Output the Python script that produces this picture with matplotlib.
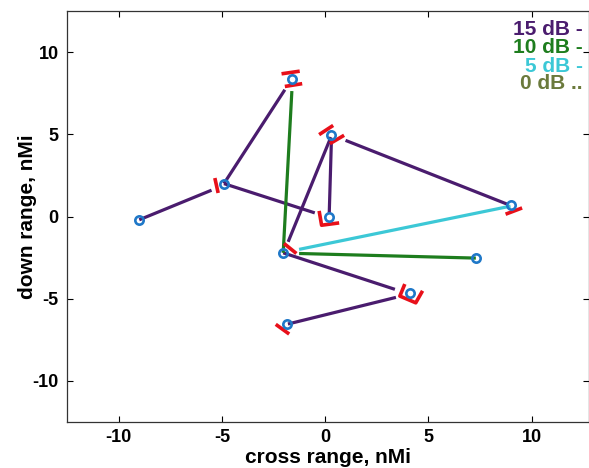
import matplotlib
matplotlib.use("Agg")
import matplotlib.pyplot as plt

# ---- data ----
# target positions (cross range, down range) in nMi
pt_x = [-9.0, -4.9, -1.6, 0.28, 0.2, 8.98, -2.03, 7.3, 4.1, -1.84]
pt_y = [-0.2, 2.0, 8.35, 4.98, 0.0, 0.69, -2.21, -2.53, -4.64, -6.54]

# 15 dB links (start x, start y, end x, end y)
links15_x0 = [-9.0, -4.9, -4.9, 0.30, 0.28, 0.99, -2.03, 3.43]
links15_y0 = [-0.2, 2.0, 2.0, 4.43, 4.83, 4.63, -2.21, -4.92]
links15_x1 = [-5.5, -1.95, -0.5, 0.20, -1.79, 8.82, 3.38, -1.80]
links15_y1 = [1.6, 7.71, 0.22, 0.18, -1.54, 0.75, -4.43, -6.54]

# 10 dB links
links10_x0 = [-1.61, -1.26]
links10_y0 = [7.63, -2.25]
links10_x1 = [-2.03, 7.3]
links10_y1 = [-2.21, -2.53]

# 5 dB links
links5_x0 = [-1.26]
links5_y0 = [-2.0]
links5_x1 = [8.98]
links5_y1 = [0.63]

# red bracket polylines (x list, y list)
brackets = [
    ([-2.11, -1.23], [8.68, 8.84]),
    ([-1.95, -1.11], [7.91, 8.08]),
    ([-5.34, -5.18], [2.34, 1.43]),
    ([-0.29, 0.39], [4.98, 5.54]),
    ([0.23, 0.92], [4.43, 4.94]),
    ([-0.29, -0.17, 0.68], [0.34, -0.53, -0.39]),
    ([8.74, 9.54], [0.14, 0.52]),
    ([-1.99, -1.39], [-1.64, -2.25]),
    ([3.86, 3.62, 4.39, 4.72], [-4.11, -4.84, -5.25, -4.52]),
    ([-2.39, -1.74], [-6.56, -7.15]),
]

legend_labels = ["15 dB -", "10 dB -", "5 dB -", "0 dB .."]

xticks = [-10, -5, 0, 5, 10]
yticks = [-10, -5, 0, 5, 10]

# ---- style ----
C15 = "#4a1c6e"
C10 = "#1e7d1e"
C5 = "#3cc8d6"
C0 = "#6b7a3c"
CRED = "#e8101a"
CBLUE = "#1f78c8"

plt.rcParams['font.family'] = ['Liberation Sans', 'DejaVu Sans']
plt.rcParams['font.weight'] = 'bold'

fig = plt.figure(figsize=(5.89, 4.68), dpi=100)
ax = fig.add_axes([67 / 589, 46 / 468, 1 - 67 / 589, (422 - 11) / 468])

def draw_links(x0, y0, x1, y1, color):
    for a, b, c, d in zip(x0, y0, x1, y1):
        ax.plot([a, c], [b, d], color=color, lw=2.3, solid_capstyle='butt', zorder=2)

draw_links(links15_x0, links15_y0, links15_x1, links15_y1, C15)
draw_links(links10_x0, links10_y0, links10_x1, links10_y1, C10)
draw_links(links5_x0, links5_y0, links5_x1, links5_y1, C5)

for bx, by in brackets:
    ax.plot(bx, by, color=CRED, lw=2.6, solid_capstyle='butt', zorder=3)

ax.plot(pt_x, pt_y, linestyle='none', marker='o', markersize=6,
        markerfacecolor='none', markeredgecolor=CBLUE, markeredgewidth=1.9, zorder=4)

ax.set_xlim(-12.5, 12.78)
ax.set_ylim(-12.5, 12.5)
ax.set_xticks(xticks)
ax.set_yticks(yticks)
ax.set_xticklabels([str(v) for v in xticks])
ax.set_yticklabels([str(v) for v in yticks])
ax.tick_params(direction='in', length=4, width=0.8, top=True, right=True,
               labelsize=13)
ax.tick_params(axis='x', pad=5)
ax.tick_params(axis='y', pad=6)
for lab in ax.get_xticklabels() + ax.get_yticklabels():
    lab.set_fontweight('bold')
for s in ax.spines.values():
    s.set_linewidth(0.9)
    s.set_color('#333333')

ax.set_xlabel("cross range, nMi", fontsize=15, fontweight='bold')
ax.set_ylabel("down range, nMi", fontsize=15, fontweight='bold')
ax.xaxis.set_label_coords(0.5, -0.063)
ax.yaxis.set_label_coords(-0.057, 0.5)

leg_colors = [C15, C10, C5, C0]
leg_y = [0.9545, 0.910, 0.866, 0.824]
for lab, col, yy in zip(legend_labels, leg_colors, leg_y):
    ax.text(0.9885, yy, lab, color=col, fontsize=15, fontweight='bold',
            ha='right', va='center', transform=ax.transAxes)

fig.savefig("out.png", dpi=100)
